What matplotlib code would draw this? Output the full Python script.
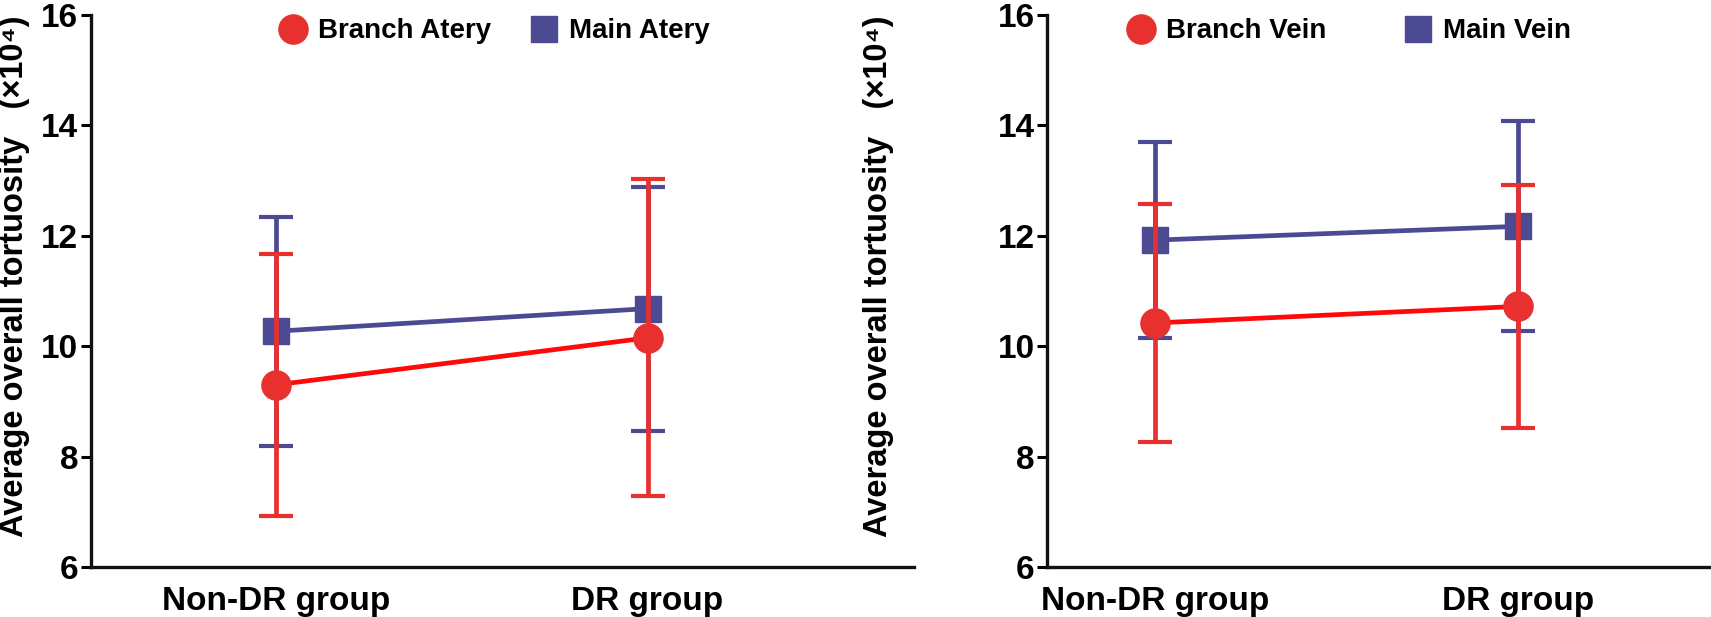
import matplotlib
matplotlib.use("Agg")
import matplotlib.pyplot as plt
from matplotlib.lines import Line2D

plt.rcParams['font.family'] = ['Liberation Sans', 'DejaVu Sans']
plt.rcParams['font.weight'] = 'bold'

groups = ['Non-DR group', 'DR group']

# arteries
branch_artery = [9.30, 10.15]
branch_artery_err = [2.37, 2.87]
main_artery = [10.27, 10.68]
main_artery_err = [2.07, 2.21]

# veins
branch_vein = [10.42, 10.72]
branch_vein_err = [2.15, 2.20]
main_vein = [11.92, 12.17]
main_vein_err = [1.77, 1.90]

RED = '#e8312f'
RED_LINE = '#ff0a0a'
BLUE = '#4b4a92'

fig = plt.figure(figsize=(17.11, 6.17), dpi=100)
ax1 = fig.add_axes([0.053, 0.081, 0.481, 0.895])
ax2 = fig.add_axes([0.612, 0.081, 0.388, 0.895])


def draw_panel(ax, branch, branch_err, main, main_err, names, xlim, label_x,
               legend_anchor, colspace):
    x = [0, 1]
    # main first, branch drawn over it
    ax.errorbar(x, main, yerr=main_err, color=BLUE, linewidth=3.4, elinewidth=3.4,
                capsize=12, capthick=3, marker='s', markersize=19, zorder=2)
    ax.errorbar(x, branch, yerr=branch_err, color=RED, fmt='none', elinewidth=3.4,
                capsize=12, capthick=3, zorder=3)
    ax.plot(x, branch, color=RED_LINE, linewidth=3.4, zorder=3)
    ax.plot(x, branch, 'o', color=RED, markersize=21, zorder=4)

    ax.set_xlim(*xlim)
    ax.set_ylim(6, 16)
    ax.set_yticks([6, 8, 10, 12, 14, 16])
    ax.set_xticks(x)
    ax.set_xticklabels(groups, fontsize=24, fontweight='bold')
    ax.tick_params(axis='x', length=0, pad=14)
    ax.tick_params(axis='y', length=7, width=2.2, labelsize=24, pad=2)
    for t in ax.get_yticklabels():
        t.set_fontweight('bold')
    ax.spines['top'].set_visible(False)
    ax.spines['right'].set_visible(False)
    ax.spines['left'].set_linewidth(2.4)
    ax.spines['bottom'].set_linewidth(2.4)
    ax.spines['left'].set_color('#111111')
    ax.spines['bottom'].set_color('#111111')

    ax.set_ylabel('Average overall tortuosity   (×10⁴)', fontsize=23.5, fontweight='bold')
    ax.yaxis.set_label_coords(label_x, 0.527)

    handles = [
        Line2D([], [], linestyle='none', marker='o', color=RED, markersize=21),
        Line2D([], [], linestyle='none', marker='s', color=BLUE, markersize=19),
    ]
    ax.legend(handles, names, loc='center', bbox_to_anchor=legend_anchor, ncol=2,
              frameon=False, prop={'weight': 'bold', 'size': 20},
              handletextpad=0.3, columnspacing=colspace, handlelength=1.2)


draw_panel(ax1, branch_artery, branch_artery_err, main_artery, main_artery_err,
           ['Branch Atery', 'Main Atery'], (-0.5, 1.717), -0.074, (0.489, 0.97), 1.3)
draw_panel(ax2, branch_vein, branch_vein_err, main_vein, main_vein_err,
           ['Branch Vein', 'Main Vein'], (-0.2975, 1.53), -0.23, (0.452, 0.97), 2.7)

fig.savefig('out.png', dpi=100)
